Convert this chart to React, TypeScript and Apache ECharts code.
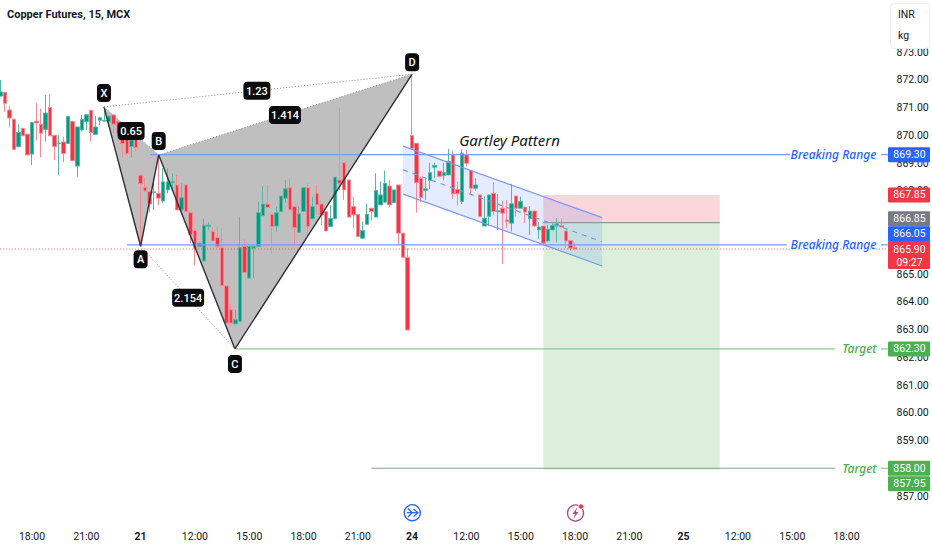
import React, { useEffect, useRef } from "react";
import * as echarts from "echarts";

const title = "Copper Futures, 15, MCX";
const tickLabels = ["18:00", "21:00", "21", "12:00", "15:00", "18:00", "21:00", "24", "12:00", "15:00", "18:00", "21:00", "25", "12:00", "15:00", "18:00"];
const boldLabels = ["21", "24", "25"];
const hiddenPriceTicks = [858, 866, 874, 875];

const opens = [871.41,871.55,870.91,870.58,869.59,870.25,870.04,869.32,870.51,870.40,870.21,871.00,870.00,869.70,869.76,869.70,870.50,868.89,870.19,870.49,870.90,870.03,870.54,870.51,870.49,870.73,870.49,870.05,870.01,869.59,869.89,
868.56,868.12,867.97,867.93,867.91,867.63,868.03,868.30,868.21,867.31,868.21,867.21,866.57,865.99,865.47,866.71,866.53,866.31,865.95,864.57,863.71,863.20,863.29,865.99,864.85,865.93,865.99,867.10,867.52,867.15,866.73,
867.25,867.73,868.11,867.43,866.50,867.25,868.11,866.99,867.91,867.52,867.25,866.71,866.99,868.39,869.01,868.39,867.43,867.15,866.29,866.79,867.37,867.05,867.49,867.59,868.17,867.57,868.21,866.47,865.60,869.99,
869.71,868.45,868.01,868.37,868.85,868.71,868.55,868.57,869.29,868.05,867.61,869.29,868.73,868.09,867.85,866.73,867.08,867.91,867.24,867.37,866.95,866.83,867.81,867.37,867.41,866.99,867.27,866.59,866.73,866.19,866.59,866.73,866.75,866.55,866.21,865.95];
const closes = [871.56,871.15,870.62,869.49,870.10,869.98,869.29,870.46,870.44,870.07,870.80,869.98,869.59,869.72,869.34,870.68,869.08,870.30,870.57,870.74,870.09,870.30,870.63,870.53,870.69,870.40,870.07,869.70,869.33,869.83,869.55,
868.25,867.99,867.52,867.96,867.73,868.32,868.32,868.33,867.31,867.75,867.25,866.41,865.93,866.11,866.76,866.76,866.19,865.98,864.58,863.23,863.23,863.35,865.95,865.05,865.99,865.99,867.21,867.52,867.40,866.71,867.21,
867.81,868.07,867.31,866.67,867.17,868.11,866.71,867.43,867.49,867.13,866.55,867.00,868.49,868.27,868.03,867.05,867.13,866.35,866.57,867.15,867.25,868.01,867.85,868.27,867.49,868.03,866.47,865.60,862.98,869.53,
868.29,867.76,868.07,868.65,868.91,868.52,868.65,869.06,867.89,867.89,869.35,868.99,868.09,868.21,867.07,867.01,867.85,867.25,867.28,867.19,866.89,867.53,867.37,867.61,867.23,867.27,866.73,866.69,866.11,866.61,866.75,866.81,866.69,866.19,865.93,865.90];
const lows = [871.41,870.85,870.28,869.47,869.56,869.98,869.29,868.93,869.81,869.20,869.77,869.98,869.11,868.57,869.02,869.70,869.08,868.51,870.13,870.19,869.77,870.03,870.37,870.49,870.31,870.07,870.00,869.20,869.33,869.20,869.41,
866.05,867.99,867.21,867.31,867.49,867.57,867.91,868.05,867.31,867.31,867.25,866.11,865.33,865.99,865.47,866.59,866.19,865.98,864.58,863.23,863.11,863.20,863.29,865.05,864.85,864.85,865.98,867.09,867.40,865.72,866.53,
867.25,867.57,867.31,866.05,866.50,867.25,866.53,866.99,867.13,866.77,866.55,866.71,866.99,868.03,867.67,867.05,866.65,866.35,866.29,866.79,866.93,867.05,867.49,867.59,867.41,867.57,866.03,865.60,862.98,869.53,
867.21,867.60,867.67,868.05,868.45,868.49,868.37,868.57,867.71,867.47,867.53,868.87,867.91,868.00,867.07,866.73,866.73,867.13,866.59,865.37,866.65,866.53,867.07,867.37,866.83,866.41,866.69,866.27,866.05,866.17,866.59,866.14,866.69,865.93,865.83,865.90];
const highs = [871.99,871.55,871.05,870.58,870.40,870.25,870.04,870.46,871.15,870.95,871.45,871.49,870.00,870.00,869.95,870.68,870.50,870.30,870.73,870.74,870.90,870.69,870.67,871.03,870.69,870.75,870.49,870.05,870.01,869.83,869.89,
868.56,868.45,867.97,868.45,869.23,868.81,868.81,868.63,868.57,868.27,868.21,867.21,866.57,866.11,867.00,866.87,866.69,866.71,866.65,864.57,863.91,863.71,867.07,866.25,865.99,865.99,867.61,868.17,868.20,867.15,867.43,
867.81,868.39,868.45,867.43,867.43,868.11,868.27,867.79,868.21,867.52,867.25,867.49,868.49,871.00,869.01,868.39,867.79,867.15,866.89,867.53,867.37,868.63,868.33,868.73,868.39,868.03,868.21,866.47,865.93,872.17,
869.71,868.51,868.45,869.01,869.01,868.71,869.01,869.51,869.45,868.33,869.49,869.47,868.73,868.45,867.85,867.79,867.85,868.31,867.88,867.63,867.67,868.25,867.81,867.79,867.41,867.45,867.27,866.87,866.73,866.77,866.83,867.01,867.00,866.55,866.21,866.11];

// Harmonic pattern pivots: [bar, price]
const pointX = [22.9, 871.02];
const pointA = [31, 866.0];
const pointB = [35, 869.29];
const pointC = [51.85, 862.3];
const pointD = [91, 872.2];
const pivotLabels = ["X", "A", "B", "C", "D"];
const ratioLabels = ["0.65", "1.23", "1.414", "2.154"];
const ratioAnchors = [[28.9, 870.15], [56.7, 871.6], [62.9, 870.73], [41.5, 864.14]];

const channelTop = [[89, 869.61], [133, 867.03]];
const channelMid = [[89, 868.75], [133, 866.16]];
const channelBottom = [[89, 867.88], [133, 865.29]];

const positionBars = [120, 159];
const stopPrice = 867.85;
const entryPrice = 866.85;
const targetPrice = 857.95;

const breakHigh = 869.3;
const breakLow = 866.05;
const target1 = 862.3;
const target2 = 858.0;
const lastPrice = 865.9;
const countdown = "09:27";

const levelTags = [
  { price: 869.3, text: "869.30", color: "#2962ff", nudge: 0 },
  { price: 867.85, text: "867.85", color: "#f23645", nudge: 0 },
  { price: 866.85, text: "866.85", color: "#787b86", nudge: -4 },
  { price: 866.05, text: "866.05", color: "#2962ff", nudge: -11 },
  { price: 862.3, text: "862.30", color: "#4caf50", nudge: 0 },
  { price: 858.0, text: "858.00", color: "#4caf50", nudge: 0 },
  { price: 857.95, text: "857.95", color: "#4caf50", nudge: 14 },
];

const BAR_COUNT = 197;
const FONT = "Roboto, 'Noto Sans', sans-serif";
const NOTE_FONT = "'Noto Sans', 'Open Sans', sans-serif";
const categories = Array.from({ length: BAR_COUNT }, (_, i) =>
  i >= 7 && (i - 7) % 12 === 0 ? tickLabels[(i - 7) / 12] ?? "" : ""
);

function makeChart(el: HTMLDivElement) {
  const chart = echarts.init(el, undefined, { renderer: "svg" });

  const locate = (api: any, bar: number, price: number) => {
    const base = Math.floor(bar);
    const p = api.coord([base, price]);
    return [p[0] + (bar - base) * api.size([1, 0])[0], p[1]];
  };
  const seg = (a: number[], b: number[], stroke: string, lineWidth = 1, lineDash?: number[]) => ({
    type: "line",
    shape: { x1: a[0], y1: a[1], x2: b[0], y2: b[1] },
    style: { stroke, lineWidth, lineDash, fill: null },
  });
  const label = (x: number, y: number, text: string, fill: string, extra: any = {}) => ({
    type: "text",
    z2: 20,
    style: { x, y, text, fill, fontSize: 10.5, fontFamily: FONT, align: "center", verticalAlign: "middle", ...extra },
  });
  const badge = (x: number, y: number, w: number, h: number, text: string) => [
    { type: "rect", z2: 18, shape: { x: x - w / 2, y: y - h / 2, width: w, height: h, r: 4 }, style: { fill: "#0b0b0e" } },
    label(x, y + 0.5, text, "#ffffff", { fontSize: 11, fontWeight: 500 }),
  ];

  const renderBelow = (_: any, api: any) => {
    const L = (p: number[]) => locate(api, p[0], p[1]);
    const [x0, x1] = [locate(api, positionBars[0], stopPrice)[0], locate(api, positionBars[1], stopPrice)[0]];
    const yStop = api.coord([0, stopPrice])[1];
    const yEntry = api.coord([0, entryPrice])[1];
    const yTarget = api.coord([0, targetPrice])[1];
    return {
      type: "group",
      children: [
        { type: "polygon", shape: { points: [pointX, pointA, pointB].map(L) }, style: { fill: "#bfbfbf" } },
        { type: "polygon", shape: { points: [pointB, pointC, pointD].map(L) }, style: { fill: "#bfbfbf" } },
        { type: "rect", shape: { x: x0, y: yStop, width: x1 - x0, height: yEntry - yStop }, style: { fill: "rgba(242,54,69,0.2)" } },
        { type: "rect", shape: { x: x0, y: yEntry, width: x1 - x0, height: yTarget - yEntry }, style: { fill: "rgba(76,175,80,0.2)" } },
        { type: "polygon", shape: { points: [channelTop[0], channelTop[1], channelBottom[1], channelBottom[0]].map(L) }, style: { fill: "rgba(41,98,255,0.12)" } },
      ],
    };
  };

  const renderAbove = (_: any, api: any) => {
    const L = (p: number[]) => locate(api, p[0], p[1]);
    const yOf = (price: number) => api.coord([0, price])[1];
    const blue = "#7a98f7";
    const dark = "#2f3036";
    const dots = "#8a8c93";
    const X = L(pointX), A = L(pointA), B = L(pointB), C = L(pointC), D = L(pointD);
    const children: any[] = [
      seg([0, yOf(lastPrice)], [888, yOf(lastPrice)], "rgba(242,54,69,0.7)", 1, [1, 2]),
      seg(L([33.1, breakHigh]), L([174.5, breakHigh]), blue, 1.2),
      seg(L([28, breakLow]), L([173.8, breakLow]), blue, 1.2),
      seg([881, yOf(breakHigh)], [888, yOf(breakHigh)], blue, 1.2),
      seg([881, yOf(breakLow)], [888, yOf(breakLow)], blue, 1.2),
      seg(L([52, target1]), L([184.5, target1]), "#8cc98e", 1.2),
      seg(L([82, target2]), L([184.5, target2]), "#83a685", 1.2),
      seg([881, yOf(target1)], [888, yOf(target1)], "#8cc98e", 1.2),
      seg([881, yOf(target2)], [888, yOf(target2)], "#8cc98e", 1.2),
      seg(L([120, entryPrice]), L([159, entryPrice]), "#8f9a90", 1.2),
      seg(X, A, dark, 1.4),
      seg(A, B, dark, 1.4),
      seg(B, C, dark, 1.4),
      seg(C, D, dark, 1.4),
      seg(X, B, dots, 1, [1, 2]),
      seg(B, D, dots, 1, [1, 2]),
      seg(X, D, dots, 1, [1, 2]),
      seg(A, C, dots, 1, [1, 2]),
      seg(L(channelTop[0]), L(channelTop[1]), blue, 1.2),
      seg(L(channelBottom[0]), L(channelBottom[1]), blue, 1.2),
      seg(L(channelMid[0]), L(channelMid[1]), blue, 1.2, [5, 5]),
    ];
    const pivots = [X, A, B, C, D];
    const shifts = [-14, 13, -14, 15, -12];
    pivots.forEach((p, i) => children.push(...badge(p[0], p[1] + shifts[i], 14, 18, pivotLabels[i])));
    const widths = [27, 27, 32, 32];
    ratioLabels.forEach((t, i) => {
      const p = L(ratioAnchors[i]);
      children.push(...badge(p[0], p[1], widths[i], 18, t));
    });

    const note = { fontSize: 12, fontStyle: "italic", fontWeight: 500, fontFamily: NOTE_FONT };
    children.push(label(833.5, yOf(breakHigh), "Breaking Range", "#2962ff", note));
    children.push(label(833.5, yOf(breakLow), "Breaking Range", "#2962ff", note));
    children.push(label(859.5, yOf(target1), "Target", "#4caf50", note));
    children.push(label(859.5, yOf(target2), "Target", "#4caf50", note));
    children.push(label(509.5, 140, "Gartley Pattern", "#131722", { ...note, fontSize: 15, fontWeight: 400 }));

    levelTags.forEach((t) => {
      const y = yOf(t.price) + t.nudge;
      children.push({ type: "rect", z2: 15, shape: { x: 888, y: y - 7.5, width: 42, height: 15, r: 1 }, style: { fill: t.color } });
      children.push(label(909.5, y, t.text, "#ffffff"));
    });
    const yLast = yOf(lastPrice);
    children.push({ type: "rect", z2: 15, shape: { x: 888, y: yLast - 8, width: 42, height: 28, r: 1 }, style: { fill: "#f23645" } });
    children.push(label(909.5, yLast, lastPrice.toFixed(2), "#ffffff"));
    children.push(label(909.5, yLast + 13, countdown, "#ffffff"));
    return { type: "group", children };
  };

  chart.setOption({
    animation: false,
    backgroundColor: "#ffffff",
    textStyle: { fontFamily: FONT },
    grid: { left: -1.93, right: 42.5, top: -3.5, height: 499.5, containLabel: false, outerBoundsMode: "none" },
    xAxis: {
      type: "category",
      data: categories,
      boundaryGap: true,
      axisLine: { show: false },
      axisTick: { show: false },
      splitLine: { show: false },
      axisLabel: {
        margin: 35,
        interval: (_i: number, v: string) => v !== "",
        fontSize: 10.5,
        fontFamily: FONT,
        color: "#131722",
        formatter: (v: string) => (boldLabels.includes(v) ? `{b|${v}}` : v),
        rich: { b: { fontWeight: 700, fontSize: 10.5, fontFamily: FONT, color: "#131722" } },
      },
    },
    yAxis: {
      type: "value",
      position: "right",
      min: 857,
      max: 875,
      interval: 1,
      axisLine: { show: false },
      axisTick: { show: false },
      splitLine: { show: false },
      axisLabel: {
        margin: 7,
        fontSize: 10.5,
        fontFamily: FONT,
        color: "#131722",
        formatter: (v: number) => (hiddenPriceTicks.includes(v) ? "" : v.toFixed(2)),
      },
    },
    series: [
      {
        type: "custom",
        name: "zones",
        z: 1,
        silent: true,
        clip: false,
        data: [[0, 865]],
        encode: { x: 0, y: 1 },
        renderItem: renderBelow,
      },
      {
        type: "candlestick",
        name: "Copper Futures",
        z: 2,
        barWidth: 4,
        data: opens.map((o, i) => [o, closes[i], lows[i], highs[i]]),
        itemStyle: {
          color: "#089981",
          color0: "#f23645",
          borderColor: "#55b8a6",
          borderColor0: "#f78a94",
          borderWidth: 1,
        },
        silent: true,
      },
      {
        type: "custom",
        name: "drawings",
        z: 5,
        silent: true,
        clip: false,
        data: [[0, 865]],
        encode: { x: 0, y: 1 },
        renderItem: renderAbove,
      },
    ],
    graphic: [
      {
        type: "text",
        left: 7,
        top: 9,
        z: 100,
        style: { text: title, fill: "#131722", fontSize: 11, fontWeight: 700, fontFamily: "Roboto, sans-serif" },
      },
      {
        type: "rect",
        z: 100,
        shape: { x: 890.5, y: 3.5, width: 39, height: 45, r: 4 },
        style: { fill: "#ffffff", stroke: "#eceef2", lineWidth: 1 },
      },
      { type: "text", z: 101, x: 898, y: 9, style: { text: "INR", fill: "#131722", fontSize: 10.5, fontFamily: FONT } },
      { type: "text", z: 101, x: 898, y: 30, style: { text: "kg", fill: "#131722", fontSize: 10.5, fontFamily: FONT } },
      { type: "circle", z: 100, shape: { cx: 412.3, cy: 512.7, r: 8 }, style: { fill: "#fff", stroke: "#2962ff", lineWidth: 1.4 } },
      { type: "polyline", z: 101, shape: { points: [[408, 508.5], [412, 512.7], [408, 517]] }, style: { fill: null, stroke: "#2962ff", lineWidth: 1.3 } },
      { type: "line", z: 101, shape: { x1: 407, y1: 512.7, x2: 418, y2: 512.7 }, style: { stroke: "#2962ff", lineWidth: 1.3 } },
      { type: "polyline", z: 101, shape: { points: [[413.5, 509], [418, 512.7], [413.5, 516.5]] }, style: { fill: null, stroke: "#2962ff", lineWidth: 1.3 } },
      { type: "circle", z: 100, shape: { cx: 575.5, cy: 513, r: 8 }, style: { fill: "#fff", stroke: "#a6527f", lineWidth: 1.4 } },
      { type: "polygon", z: 101, shape: { points: [[577.5, 507], [572.5, 514], [575.2, 514], [573.5, 519], [578.5, 512], [575.8, 512]] }, style: { fill: "#a6527f" } },
      { type: "circle", z: 102, shape: { cx: 581, cy: 506.5, r: 2.6 }, style: { fill: "#f23645", stroke: "#ffffff", lineWidth: 0.8 } },
    ],
  });
  return chart;
}

export default function App() {
  const ref = useRef<HTMLDivElement>(null);
  useEffect(() => {
    if (!ref.current) return;
    const chart = makeChart(ref.current);
    return () => chart.dispose();
  }, []);
  return <div ref={ref} style={{ position: "absolute", left: 0, top: 0, width: 932, height: 550, background: "#fff" }} />;
}
